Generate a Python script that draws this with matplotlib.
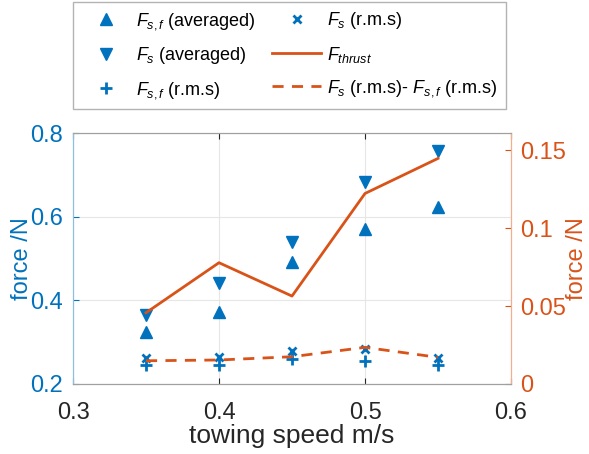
import matplotlib
matplotlib.use('Agg')
import matplotlib.pyplot as plt

plt.rcParams['font.family'] = ['Liberation Sans', 'DejaVu Sans']
plt.rcParams['mathtext.fontset'] = 'custom'
plt.rcParams['mathtext.rm'] = 'Liberation Sans'
plt.rcParams['mathtext.it'] = 'Liberation Sans:italic'

# towing speeds
speed = [0.35, 0.40, 0.45, 0.50, 0.55]

# left axis (force /N)
fsf_avg = [0.325, 0.372, 0.491, 0.570, 0.622]
fs_avg = [0.365, 0.441, 0.539, 0.684, 0.758]
fsf_rms = [0.245, 0.245, 0.259, 0.256, 0.245]
fs_rms = [0.262, 0.264, 0.280, 0.283, 0.262]

# right axis (force /N)
f_thrust = [0.0457, 0.0778, 0.0564, 0.1222, 0.1447]
rms_diff = [0.0149, 0.0154, 0.0175, 0.0235, 0.0171]

BLUE = '#0072BD'
ORANGE = '#D95319'

fig = plt.figure(figsize=(5.89, 4.54), dpi=100)
ax = fig.add_axes([73 / 589, 1 - 384 / 454, 438 / 589, 251 / 454])
ax2 = ax.twinx()

h1, = ax.plot(speed, fsf_avg, '^', color=BLUE, markersize=9, linestyle='none')
h2, = ax.plot(speed, fs_avg, 'v', color=BLUE, markersize=9, linestyle='none')
h3, = ax.plot(speed, fsf_rms, '+', color=BLUE, markersize=8, markeredgewidth=2, linestyle='none')
h4, = ax.plot(speed, fs_rms, 'x', color=BLUE, markersize=6, markeredgewidth=2, linestyle='none')

h5, = ax2.plot(speed, f_thrust, '-', color=ORANGE, linewidth=2)
h6, = ax2.plot(speed, rms_diff, '--', color=ORANGE, linewidth=2, dashes=(4, 3))

ax.set_xlim(0.3, 0.6)
ax.set_ylim(0.2, 0.8)
ax2.set_ylim(0, 0.161)
ax.set_xticks([0.3, 0.4, 0.5, 0.6])
ax.set_xticklabels(['0.3', '0.4', '0.5', '0.6'])
ax.set_yticks([0.2, 0.4, 0.6, 0.8])
ax.set_yticklabels(['0.2', '0.4', '0.6', '0.8'])
ax2.set_yticks([0, 0.05, 0.1, 0.15])
ax2.set_yticklabels(['0', '0.05', '0.1', '0.15'])

ax.grid(True, color='#e6e6e6', linewidth=0.8)
ax.set_axisbelow(True)

ax.tick_params(axis='x', direction='in', labelsize=17, colors='#262626', length=4, top=True, pad=13)
ax.tick_params(axis='y', direction='in', labelsize=17, colors=BLUE, labelcolor=BLUE, length=4, pad=7)
ax2.tick_params(axis='y', direction='in', labelsize=17, colors=ORANGE, labelcolor=ORANGE, length=4, pad=6.5)

ax.set_xlabel('towing speed m/s', fontsize=19, color='#262626', labelpad=0)
ax.set_ylabel('force /N', fontsize=17, color=BLUE, labelpad=-2)
ax2.set_ylabel('force /N', fontsize=17, color=ORANGE, labelpad=0)

for a in (ax, ax2):
    a.spines['top'].set_color('#a0a0a0')
    a.spines['bottom'].set_color('#a0a0a0')
    a.spines['left'].set_color('#8fbfe0')
    a.spines['right'].set_color('#f0b090')

handles = [h1, h2, h3, h4, h5, h6]
labels = [r'$F_{s,f}$ (averaged)', r'$F_s$ (averaged)', r'$F_{s,f}$ (r.m.s)',
          r'$F_s$ (r.m.s)', r'$F_{thrust}$', r'$F_s$ (r.m.s)- $F_{s,f}$ (r.m.s)']
leg = fig.legend(handles, labels, ncol=2, loc='upper left',
                 bbox_to_anchor=(73 / 589, 1 - 2 / 454),
                 fontsize=13, frameon=True, fancybox=False,
                 edgecolor='#a0a0a0', handlelength=2.7, handletextpad=0.35,
                 borderaxespad=0, borderpad=0.45,
                 labelspacing=0.75, columnspacing=0.9)
leg.get_frame().set_linewidth(1)

fig.savefig('out.png', dpi=100)
